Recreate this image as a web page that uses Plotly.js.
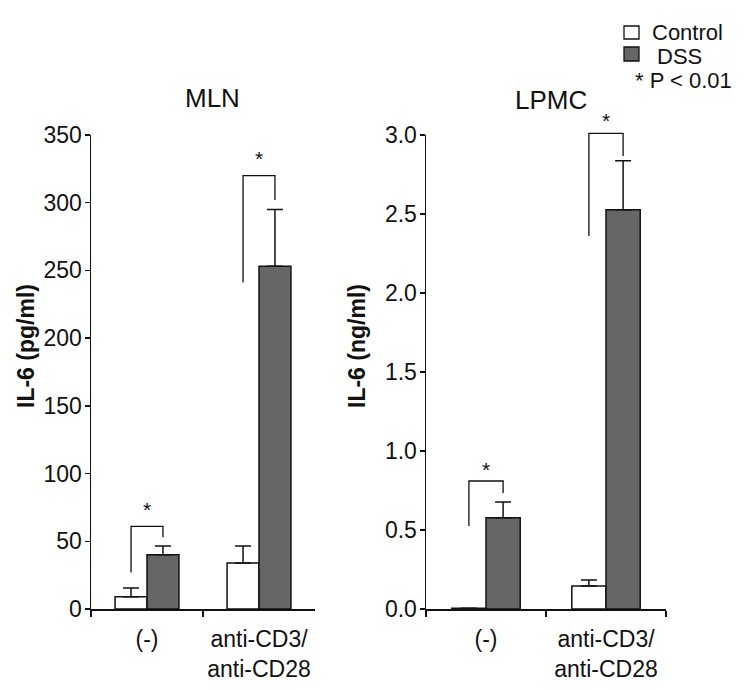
<!DOCTYPE html>
<html>
<head>
<meta charset="utf-8">
<script src="https://cdn.plot.ly/plotly-3.0.1.min.js"></script>
<style>
  html, body { margin: 0; padding: 0; background: #fff; }
  #chart { width: 750px; height: 690px; }
</style>
</head>
<body>
<div id="chart"></div>
<script>
// IL-6 production, MLN (pg/ml) and LPMC (ng/ml)
const categories = ['(-)', 'anti-CD3/<br>anti-CD28'];
const seriesNames = ['Control', 'DSS'];

const mlnControl = [9, 34];
const mlnControlErr = [6.5, 12.5];
const mlnDSS = [40, 253];
const mlnDSSErr = [6.5, 42];

const lpmcControl = [0.005, 0.146];
const lpmcControlErr = [0, 0.038];
const lpmcDSS = [0.577, 2.527];
const lpmcDSSErr = [0.10, 0.31];

// significance brackets: [left foot, top, right foot] per category, plus star heights
const mlnBrackets = [[27, 61, 53], [241, 320, 302]];
const mlnStars = [72, 331];
const lpmcBrackets = [[0.525, 0.81, 0.734], [2.36, 3.01, 2.867]];
const lpmcStars = [0.87, 3.075];

const FONT = 'Liberation Sans, Arial, sans-serif';
const INK = '#111';
const FILLS = ['#ffffff', '#666666'];
const HALF = 0.1425; // bar centre offset inside a category

// plot area in pixels; the hidden "overhead" axes run the same scale a bit higher
const PLOT_TOP = 135, PLOT_BOTTOM = 609, HEAD = 30;
const yDomain = [1 - PLOT_BOTTOM / 690, 1 - PLOT_TOP / 690];
const headDomain = [yDomain[0], 1 - (PLOT_TOP - HEAD) / 690];
const headScale = (PLOT_BOTTOM - PLOT_TOP + HEAD) / (PLOT_BOTTOM - PLOT_TOP);

function barTrace(y, err, k, xa, ya) {
  return {
    type: 'bar',
    x: categories,
    y: y,
    name: seriesNames[k],
    xaxis: xa,
    yaxis: ya,
    showlegend: false,
    marker: { color: FILLS[k], line: { color: INK, width: 1.5 } },
    error_y: {
      type: 'data',
      symmetric: false,
      array: err,
      arrayminus: err.map(() => 0),
      color: INK,
      thickness: 1.5,
      width: 8
    },
    hoverinfo: 'skip'
  };
}

function starTrace(y, xa, ya) {
  return {
    type: 'scatter',
    mode: 'text',
    x: categories,
    y: y,
    text: y.map(() => '*'),
    textposition: 'middle center',
    textfont: { family: FONT, size: 21, color: INK },
    xaxis: xa,
    yaxis: ya,
    showlegend: false,
    hoverinfo: 'skip'
  };
}

const traces = [
  barTrace(mlnControl, mlnControlErr, 0, 'x', 'y'),
  barTrace(mlnDSS, mlnDSSErr, 1, 'x', 'y'),
  barTrace(lpmcControl, lpmcControlErr, 0, 'x2', 'y2'),
  barTrace(lpmcDSS, lpmcDSSErr, 1, 'x2', 'y2'),
  starTrace(mlnStars, 'x', 'y3'),
  starTrace(lpmcStars, 'x2', 'y4')
];

const shapes = [];
const annotations = [];

function addBrackets(brackets, xref, yref) {
  brackets.forEach((b, i) => {
    shapes.push({
      type: 'path',
      xref: xref,
      yref: yref,
      path: `M ${i - HALF},${b[0]} L ${i - HALF},${b[1]} L ${i + HALF},${b[1]} L ${i + HALF},${b[2]}`,
      line: { color: INK, width: 1.3 }
    });
  });
}
addBrackets(mlnBrackets, 'x', 'y3');
addBrackets(lpmcBrackets, 'x2', 'y4');

// hand-drawn key in the top right corner
const keyBoxes = [[624, 26, 639, 39], [624, 47, 639, 61]];
const keyText = [[650, 32], [655, 56]];
seriesNames.forEach((name, k) => {
  const b = keyBoxes[k];
  shapes.push({
    type: 'rect', xref: 'paper', yref: 'paper',
    x0: b[0] / 750, x1: b[2] / 750, y0: 1 - b[1] / 690, y1: 1 - b[3] / 690,
    fillcolor: FILLS[k], line: { color: INK, width: 1.3 }
  });
  annotations.push({
    xref: 'paper', yref: 'paper', x: keyText[k][0] / 750, y: 1 - keyText[k][1] / 690,
    xanchor: 'left', yanchor: 'middle', text: name, showarrow: false,
    font: { family: FONT, size: 22, color: INK }
  });
});

function note(x, y, text, size, extra) {
  return Object.assign({
    xref: 'paper', yref: 'paper', x: x / 750, y: 1 - y / 690,
    xanchor: 'center', yanchor: 'middle', text: text, showarrow: false,
    font: { family: FONT, size: size, color: INK }
  }, extra || {});
}

// panel titles, y titles, p-value note
annotations.push(
  note(212, 98, 'MLN', 26),
  note(551, 100, 'LPMC', 26),
  note(26, 346, '<b>IL-6 (pg/ml)</b>', 23, { textangle: -90 }),
  note(357, 346, '<b>IL-6 (ng/ml)</b>', 23, { textangle: -90 }),
  note(633, 81, '* P < 0.01', 22, { xanchor: 'left' })
);

const xaxisBase = {
  type: 'category',
  range: [-0.5, 1.5],
  showline: true, linecolor: INK, linewidth: 1.5,
  ticks: 'outside', tickson: 'boundaries', ticklen: 6, tickcolor: INK, tickwidth: 1.5,
  showgrid: false, zeroline: false,
  tickfont: { family: FONT, size: 23, color: INK },
  ticklabelstandoff: 9,
  fixedrange: true
};
const yaxisBase = {
  showline: true, linecolor: INK, linewidth: 1.5,
  ticks: 'outside', ticklen: 5, tickcolor: INK, tickwidth: 1.5,
  showgrid: false, zeroline: false,
  tickfont: { family: FONT, size: 23, color: INK },
  ticklabelstandoff: -2,
  domain: yDomain,
  fixedrange: true
};
const headBase = { visible: false, domain: headDomain, fixedrange: true };

const layout = {
  width: 750,
  height: 690,
  margin: { l: 0, r: 0, t: 0, b: 0 },
  paper_bgcolor: '#fff',
  plot_bgcolor: 'rgba(0,0,0,0)',
  barmode: 'group',
  bargap: 0.43,
  bargroupgap: 0,
  showlegend: false,
  font: { family: FONT, color: INK },
  xaxis: Object.assign({}, xaxisBase, { domain: [91 / 750, 315 / 750], anchor: 'y' }),
  yaxis: Object.assign({}, yaxisBase, { range: [0, 350], dtick: 50, anchor: 'x' }),
  xaxis2: Object.assign({}, xaxisBase, { domain: [426 / 750, 666 / 750], anchor: 'y2' }),
  yaxis2: Object.assign({}, yaxisBase, { range: [0, 3], dtick: 0.5, tickformat: '.1f', anchor: 'x2' }),
  yaxis3: Object.assign({}, headBase, { range: [0, 350 * headScale], anchor: 'x' }),
  yaxis4: Object.assign({}, headBase, { range: [0, 3 * headScale], anchor: 'x2' }),
  shapes: shapes,
  annotations: annotations
};

Plotly.newPlot('chart', traces, layout, { staticPlot: true });
</script>
</body>
</html>
